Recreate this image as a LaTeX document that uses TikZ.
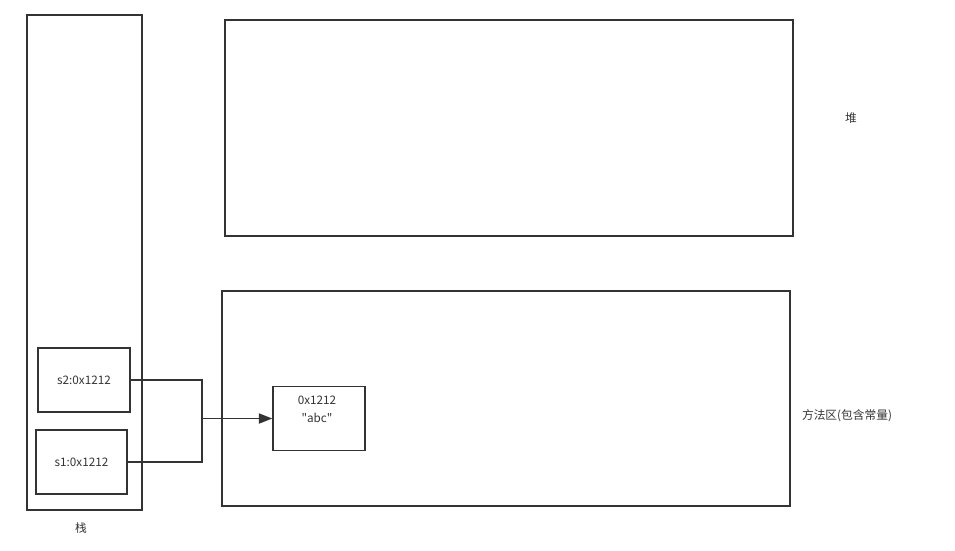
\documentclass[tikz,border=0pt]{standalone}
\usepackage{fontspec}
\setmainfont{Noto Sans CJK SC}[Ligatures=TeXOff]
\usepackage{tikz}
\usetikzlibrary{arrows.meta,positioning,calc}
\definecolor{ink}{HTML}{333333}

\begin{document}
\begin{tikzpicture}[
    x=0.03cm, y=-0.03cm,
    font=\fontsize{10}{12}\selectfont, text=ink,
    box/.style={draw=ink, line width=1.5pt, inner sep=0pt},
    area/.style={box, minimum width=17.04cm, minimum height=6.46cm},
    cell/.style={box, minimum width=2.75cm, minimum height=1.92cm},
    link/.style={draw=ink, line width=1.5pt},
    arrow/.style={link, -{Triangle[length=4mm, width=3mm]}}
]
\useasboundingbox (0,0) rectangle (955,550);

% memory regions
\node[box, minimum width=3.45cm, minimum height=14.85cm] (stack) at (84.5,262.5) {};
\node[area] (heap) at (509,128) {};
\node[area] (method) at (506,398.5) {};

\node (stacklbl) at (81,528) {栈};
\node (heaplbl) at (851,118) {堆};
\node (methodlbl) at (847,416) {方法区(包含常量)};

% references on the stack
\node[cell] (s2) at (84,380) {s2:0x1212};
\node[cell] (s1) at (81.5,462) {s1:0x1212};

% constant in the method area
\node[cell] (str) at (319,418.5) {};
\node[align=center, inner sep=0pt] (strtxt) at ($(str.center)+(-2,-9)$) {0x1212\\[3pt]"abc"};

\coordinate (jn) at (202,418.5);
\draw[link] (s2.east) -| (jn);
\draw[link] (s1.east) -| (jn);
\draw[arrow] (jn) -- (str.west);
\end{tikzpicture}
\end{document}
